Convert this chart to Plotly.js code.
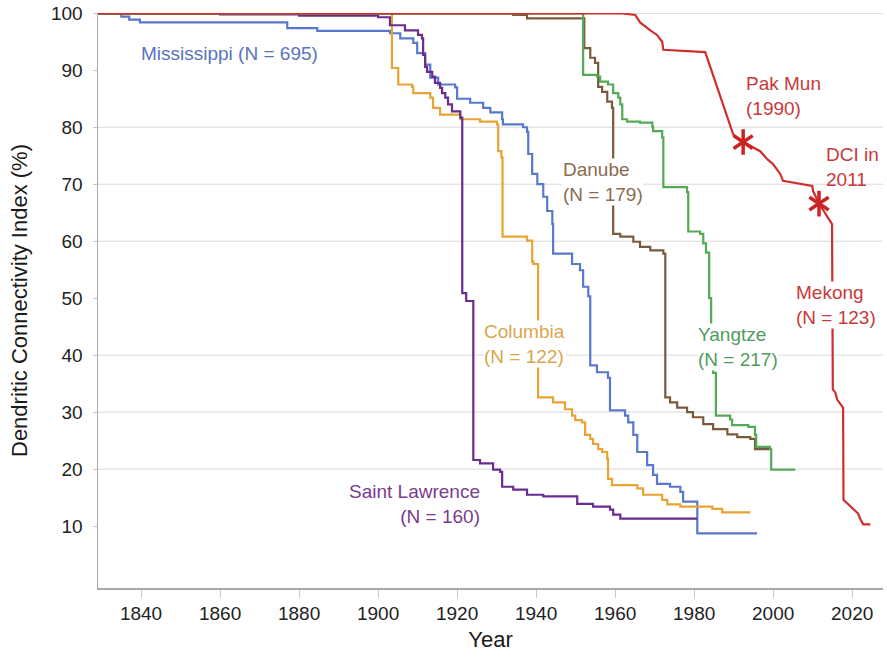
<!DOCTYPE html>
<html>
<head>
<meta charset="utf-8">
<script src="https://cdn.plot.ly/plotly-3.0.1.min.js"></script>
<style>html,body{margin:0;padding:0;background:#fff;}#chart{width:887px;height:660px;}</style>
</head>
<body>
<div id="chart"></div>
<script>
// ---- data (year, DCI %) ----
const mississippiYears = [1829.1, 1832.9, 1835, 1837, 1839.7, 1877.0, 1884.6, 1903.0, 1905.6, 1908.9, 1909.9, 1911.9, 1913.2, 1915.2, 1919.5, 1920.0, 1923.3, 1926.6, 1928.4, 1931.4, 1931.6, 1936.7, 1937.7, 1938.0, 1939.0, 1940.3, 1941.8, 1942.8, 1944.1, 1944.3, 1949.1, 1951.1, 1951.9, 1953.2, 1953.7, 1955.4, 1958.2, 1958.7, 1962.5, 1963.3, 1964.6, 1965.6, 1968.1, 1969.6, 1970.6, 1973.9, 1976.5, 1977.2, 1980.8, 1995.9];
const mississippiDCI   = [100, 100, 99.4, 98.9, 98.4, 97.4, 96.9, 96.5, 95.6, 94.8, 93.0, 91.0, 88.7, 87.5, 87.0, 85.0, 84.3, 83.4, 82.6, 81.4, 80.5, 80.0, 79.2, 75.3, 71.8, 70.0, 67.8, 65.3, 63.0, 57.8, 56.0, 54.9, 52.0, 50.3, 38.2, 37.0, 36.0, 30.3, 29.4, 28.2, 26.0, 23.0, 20.7, 19.0, 17.4, 16.9, 16.0, 14.3, 8.7, 8.7];

const columbiaYears = [1829.1, 1903.5, 1905.1, 1908.6, 1908.9, 1913.2, 1913.9, 1915.7, 1920.8, 1925.8, 1930.1, 1930.4, 1931.2, 1931.5, 1937.7, 1939.0, 1939.3, 1940.5, 1944.3, 1947.3, 1949.1, 1949.9, 1951.6, 1952.4, 1953.7, 1954.4, 1955.7, 1956.7, 1958.0, 1958.2, 1959.2, 1965.6, 1967.1, 1971.9, 1973.2, 1976.5, 1984.6, 1987.1, 1994.2];
const columbiaDCI   = [100, 90.4, 87.5, 87.1, 86.0, 85.2, 83.4, 82.2, 81.4, 81.0, 80.5, 75.8, 74.7, 60.8, 60.1, 56.4, 56.0, 32.6, 31.7, 30.5, 29.4, 28.6, 28.2, 26.0, 25.3, 24.4, 23.5, 23.0, 21.8, 18.3, 17.2, 16.6, 15.5, 14.6, 13.8, 13.4, 13.0, 12.4, 12.4];

const stLawrenceYears = [1829.1, 1860, 1880, 1900, 1903.0, 1906.8, 1910.1, 1911.1, 1911.4, 1911.9, 1912.4, 1913.7, 1914.4, 1915.7, 1916.2, 1917.0, 1917.7, 1918.7, 1920.8, 1921.3, 1922.3, 1924.1, 1925.8, 1929.1, 1930.9, 1931.4, 1934.2, 1937.7, 1941.8, 1950.4, 1954.4, 1958.7, 1959.5, 1961.3, 1980.8];
const stLawrenceDCI   = [100, 99.8, 99.6, 99.3, 97.9, 97.0, 96.2, 95.6, 92.7, 90.6, 89.7, 88.9, 87.8, 86.9, 86.0, 85.2, 84.0, 82.8, 81.7, 50.9, 49.5, 21.6, 21.0, 19.9, 19.5, 16.9, 16.4, 15.5, 15.2, 13.9, 13.4, 12.9, 12.0, 11.3, 11.3];

const danubeYears = [1829.1, 1934.2, 1937.7, 1952.2, 1953.7, 1954.9, 1955.7, 1956.7, 1958.0, 1959.2, 1959.5, 1961.3, 1964.6, 1966.3, 1968.9, 1972.2, 1972.7, 1973.9, 1975.7, 1978.2, 1979.7, 1982.3, 1984.8, 1988.4, 1990.9, 1994.2, 1995.4, 1998.7];
const danubeDCI   = [100, 99.7, 99.1, 93.9, 92.2, 91.3, 87.1, 86.2, 84.5, 83.4, 61.3, 60.8, 59.9, 59.0, 58.4, 57.8, 32.6, 31.7, 30.8, 30.0, 29.1, 27.9, 27.0, 26.1, 25.6, 25.3, 23.5, 23.3];

const yangtzeYears = [1829.1, 1951.9, 1955.4, 1956.2, 1958.2, 1959.5, 1960.8, 1961.3, 1961.8, 1963.0, 1966.3, 1969.4, 1969.6, 1971.9, 1972.2, 1978.2, 1978.5, 1981.5, 1982.3, 1983.0, 1983.8, 1984.3, 1984.8, 1985.5, 1989.1, 1989.6, 1993.7, 1995.4, 1995.7, 1999.2, 1999.5, 2005.6];
const yangtzeDCI   = [100, 89.2, 88.9, 88.0, 87.5, 86.0, 85.2, 84.0, 81.4, 81.0, 80.8, 80.1, 79.3, 78.2, 69.5, 68.6, 61.7, 61.3, 59.6, 58.0, 50.0, 42.0, 36.9, 29.4, 28.7, 27.7, 27.4, 26.0, 23.9, 23.5, 19.9, 19.9];

const mekongYears = [1829.1, 1961.3, 1965.1, 1966.3, 1968.9, 1970.6, 1971.9, 1972.2, 1982.8, 1989.9, 1992.4, 1994.9, 1996.7, 1998.5, 2000.0, 2001.8, 2002.5, 2009.9, 2010.1, 2011.6, 2014.4, 2014.9, 2015.1, 2015.7, 2016.2, 2017.7, 2017.8, 2019.0, 2020.3, 2021.5, 2022.0, 2022.8, 2024.6];
const mekongDCI   = [100, 100, 99.7, 98.4, 97.0, 96.2, 95.0, 93.6, 93.2, 78.7, 77.4, 76.5, 75.8, 74.4, 73.5, 71.8, 70.6, 69.7, 68.8, 66.6, 63.6, 63.0, 34.0, 33.5, 32.2, 30.8, 14.6, 13.8, 13.0, 12.2, 11.3, 10.3, 10.3];

const markerYears = [1992.4, 2011.6];
const markerDCI   = [77.4, 66.6];

const yTicks = [10, 20, 30, 40, 50, 60, 70, 80, 90, 100];
const gridValues = [20, 30, 40, 60, 70, 80, 100];
const xTicks = [1840, 1860, 1880, 1900, 1920, 1940, 1960, 1980, 2000, 2020];

const labels = [
  {text: 'Mississippi (N = 695)', year: 1839.7, dci: 93.0, color: '#5a74bc', anchor: 'left', bg: false},
  {text: 'Danube<br>(N = 179)', year: 1946.6, dci: 70.4, color: '#8a6c50', anchor: 'left', bg: true},
  {text: 'Columbia<br>(N = 122)', year: 1926.6, dci: 42.0, color: '#d9a64c', anchor: 'left', bg: true},
  {text: 'Saint Lawrence<br>(N = 160)', year: 1926.1, dci: 13.8, color: '#7a3c8e', anchor: 'right', bg: false},
  {text: 'Yangtze<br>(N = 217)', year: 1980.8, dci: 41.5, color: '#4f9c5c', anchor: 'left', bg: true},
  {text: 'Mekong<br>(N = 123)', year: 2005.6, dci: 48.8, color: '#c83a3a', anchor: 'left', bg: true},
  {text: 'Pak Mun<br>(1990)', year: 1992.9, dci: 85.4, color: '#c83a3a', anchor: 'left', bg: false},
  {text: 'DCI in<br>2011', year: 2013.2, dci: 73.0, color: '#c83a3a', anchor: 'left', bg: false}
];

// ---- styling ----
const FONT = '"Liberation Sans", Arial, sans-serif';
function stepTrace(x, y, color, shape) {
  return {x: x, y: y, type: 'scatter', mode: 'lines', hoverinfo: 'skip',
          line: {color: color, width: 2.2, shape: shape || 'hv'}, showlegend: false};
}
const traces = [
  stepTrace(mississippiYears, mississippiDCI, '#5878cc'),
  stepTrace(columbiaYears, columbiaDCI, '#e8a335'),
  stepTrace(stLawrenceYears, stLawrenceDCI, '#6a2c8e'),
  stepTrace(danubeYears, danubeDCI, '#7a5a3c'),
  stepTrace(yangtzeYears, yangtzeDCI, '#52aa55'),
  stepTrace(mekongYears, mekongDCI, '#cf2e2e', 'linear'),
  {x: markerYears, y: markerDCI, type: 'scatter', mode: 'markers', hoverinfo: 'skip', showlegend: false,
   marker: {symbol: 'y-up-open', size: 16, color: '#cc2222', line: {color: '#cc2222', width: 3.5}}},
  {x: markerYears, y: markerDCI, type: 'scatter', mode: 'markers', hoverinfo: 'skip', showlegend: false,
   marker: {symbol: 'y-down-open', size: 16, color: '#cc2222', line: {color: '#cc2222', width: 3.5}}}
];

const annotations = labels.map(l => ({
  x: l.year, y: l.dci, xref: 'x', yref: 'y', text: l.text, showarrow: false,
  xanchor: l.anchor, yanchor: 'middle', align: l.anchor,
  bgcolor: l.bg ? 'rgba(255,255,255,1)' : 'rgba(0,0,0,0)',
  borderpad: 0, font: {family: FONT, size: 19, color: l.color}
}));

const shapes = gridValues.map(v => ({
  type: 'line', xref: 'paper', x0: 0, x1: 1, yref: 'y', y0: v, y1: v,
  layer: 'below', line: {color: '#d9d9d9', width: 1}
}));

const layout = {
  width: 887, height: 660,
  margin: {l: 98, r: 4, t: 13, b: 72},
  paper_bgcolor: '#ffffff', plot_bgcolor: '#ffffff',
  font: {family: FONT, color: '#222222'},
  xaxis: {
    range: [1829.1, 2027.8], tickvals: xTicks, ticktext: xTicks.map(String),
    showgrid: false, zeroline: false, showline: true, linecolor: '#a8a8a8', linewidth: 1.5,
    ticks: 'outside', ticklen: 8, tickcolor: '#c8c8c8', tickwidth: 1,
    tickfont: {family: FONT, size: 19, color: '#222222'},
    title: {text: 'Year', font: {family: FONT, size: 22, color: '#1a1a1a'}, standoff: 8}
  },
  yaxis: {
    range: [-0.87, 100.05], tickvals: yTicks, ticktext: yTicks.map(String),
    showgrid: false, zeroline: false,
    showline: true, linecolor: '#a8a8a8', linewidth: 1.5,
    ticks: 'outside', ticklen: 4, tickcolor: '#c8c8c8', tickwidth: 1,
    ticklabelstandoff: 6,
    tickfont: {family: FONT, size: 19, color: '#222222'},
    title: {text: 'Dendritic Connectivity Index (%)', font: {family: FONT, size: 22, color: '#1a1a1a'}, standoff: 17}
  },
  shapes: shapes,
  annotations: annotations
};

Plotly.newPlot('chart', traces, layout, {displayModeBar: false, staticPlot: true});
</script>
</body>
</html>
